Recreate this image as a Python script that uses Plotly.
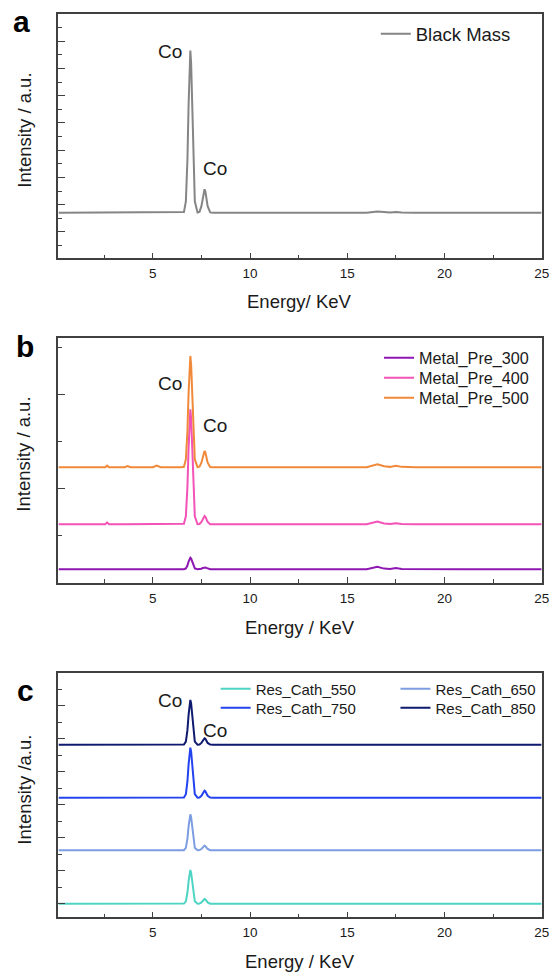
import plotly.graph_objects as go

# ---------------- data ----------------
energy = [0.15, 1.0, 2.0, 2.55, 2.65, 2.75, 3.55, 3.7, 3.85, 5.0, 5.2, 5.4,
          6.46, 6.60, 6.70, 6.78, 6.84, 6.89, 6.93, 6.97, 7.02, 7.08, 7.16, 7.30,
          7.40, 7.50, 7.57, 7.62, 7.66, 7.70, 7.75, 7.82, 7.95, 8.1, 10.0, 13.0,
          16.0, 16.55, 16.9, 17.2, 17.5, 17.8, 18.5, 21.0, 25.0]

black_mass = [706, 706, 706, 706, 712, 706, 706, 706, 706, 706, 728, 706,
              706, 730, 1123, 2642, 4679, 6203, 6662, 6203, 4679, 2642, 1123, 715,
              735, 947, 1280, 1500, 1566, 1500, 1280, 947, 719, 706, 706, 706,
              706, 750, 722, 715, 735, 712, 706, 706, 706]

metal_pre_300 = [143, 143, 143, 143, 150, 143, 143, 143, 143, 143, 146, 143,
                 143, 144, 152, 183, 225, 257, 266, 257, 225, 183, 152, 143,
                 144, 149, 157, 162, 164, 162, 157, 149, 143, 143, 143, 143,
                 143, 170, 150, 146, 155, 145, 143, 143, 143]

metal_pre_400 = [621, 621, 621, 621, 640, 621, 621, 621, 621, 621, 628, 621,
                 621, 626, 707, 1019, 1437, 1751, 1845, 1751, 1437, 1019, 707, 622,
                 624, 646, 680, 702, 709, 702, 680, 646, 622, 621, 621, 621,
                 621, 650, 630, 625, 632, 624, 621, 621, 621]

metal_pre_500 = [1228, 1228, 1228, 1228, 1245, 1228, 1228, 1240, 1228, 1228, 1245, 1228,
                 1228, 1233, 1311, 1613, 2018, 2321, 2412, 2321, 2018, 1613, 1311, 1230,
                 1234, 1276, 1343, 1388, 1401, 1388, 1343, 1276, 1231, 1228, 1228, 1228,
                 1228, 1260, 1238, 1232, 1245, 1232, 1228, 1228, 1228]

res_cath_550 = [0, 0, 0, 0, 0, 0, 0, 0, 0, 0, 0, 0,
                0, 4, 71, 332, 681, 942, 1021, 942, 681, 332, 71, 1,
                5, 40, 95, 131, 142, 131, 95, 40, 2, 0, 0, 0,
                0, 15, 5, 3, 10, 2, 0, 0, 0]

res_cath_650 = [1618, 1618, 1618, 1618, 1618, 1618, 1618, 1618, 1618, 1618, 1618, 1618,
                1618, 1622, 1694, 1973, 2346, 2625, 2709, 2625, 2346, 1973, 1694, 1619,
                1623, 1657, 1711, 1747, 1758, 1747, 1711, 1657, 1620, 1618, 1618, 1618,
                1618, 1630, 1622, 1620, 1626, 1619, 1618, 1618, 1618]

res_cath_750 = [3212, 3212, 3212, 3212, 3212, 3212, 3212, 3212, 3212, 3212, 3212, 3212,
                3212, 3218, 3318, 3704, 4223, 4610, 4727, 4610, 4223, 3704, 3318, 3214,
                3219, 3271, 3353, 3408, 3424, 3408, 3353, 3271, 3215, 3212, 3212, 3212,
                3212, 3225, 3216, 3214, 3220, 3213, 3212, 3212, 3212]

res_cath_850 = [4818, 4818, 4818, 4818, 4818, 4818, 4818, 4818, 4818, 4818, 4818, 4818,
                4818, 4823, 4913, 5258, 5722, 6069, 6173, 6069, 5722, 5258, 4913, 4820,
                4825, 4872, 4947, 4997, 5012, 4997, 4947, 4872, 4821, 4818, 4818, 4818,
                4818, 4828, 4821, 4819, 4824, 4819, 4818, 4818, 4818]

x_tick_step = 5
peak_label = "Co"

# ---------------- layout helpers ----------------
W, H = 560, 972
FONT = "Liberation Sans, Arial, sans-serif"
AX = "#404040"
TXT = "#1a1a1a"


def fx(p):
    return p / W


def fy(p):
    return 1 - p / H


x_dom = [fx(59.3), fx(549.5)]
panels = {
    "a": dict(top=14.0, bot=258.3),
    "b": dict(top=337.7, bot=582.7),
    "c": dict(top=672.7, bot=917.3),
}

fig = go.Figure()
legends = {}
LEG_OFF = 35.5


def add_legend(key, text_left, row_y, size):
    legends[key] = dict(x=fx(text_left - LEG_OFF), y=fy(row_y), xanchor="left",
                        yanchor="middle", bgcolor="rgba(0,0,0,0)", borderwidth=0,
                        font=dict(family=FONT, size=size, color=TXT))


# panel a
fig.add_trace(go.Scatter(x=energy, y=black_mass, name="Black Mass", mode="lines",
                         line=dict(color="#858585", width=2), xaxis="x", yaxis="y",
                         legend="legend"))
add_legend("legend", 416.7, 34.3, 18.5)

# panel b
b_series = [("Metal_Pre_300", metal_pre_300, "#8E17B3", 358.3),
            ("Metal_Pre_400", metal_pre_400, "#F352B7", 378.3),
            ("Metal_Pre_500", metal_pre_500, "#F08A3A", 398.3)]
for i, (name, ys, col, ry) in enumerate(b_series):
    key = "legend%d" % (i + 2)
    fig.add_trace(go.Scatter(x=energy, y=ys, name=name, mode="lines",
                             line=dict(color=col, width=2), xaxis="x2", yaxis="y2",
                             legend=key))
    add_legend(key, 420, ry, 16.2)

# panel c
c_series = [("Res_Cath_550", res_cath_550, "#4DD4C2", 254.3, 689),
            ("Res_Cath_650", res_cath_650, "#7C9DE2", 436.7, 689),
            ("Res_Cath_750", res_cath_750, "#2243EE", 254.3, 708),
            ("Res_Cath_850", res_cath_850, "#0D1A6E", 436.7, 708)]
for i, (name, ys, col, tx, ry) in enumerate(c_series):
    key = "legend%d" % (i + 5)
    fig.add_trace(go.Scatter(x=energy, y=ys, name=name, mode="lines",
                             line=dict(color=col, width=2), xaxis="x3", yaxis="y3",
                             legend=key))
    add_legend(key, tx, ry, 15.0)


def xaxis_def(anchor):
    return dict(domain=x_dom, anchor=anchor, range=[0.146, 25],
                tick0=0, dtick=x_tick_step, ticks="inside", ticklen=6, tickwidth=1.3,
                tickcolor=AX, ticklabelstandoff=2,
                minor=dict(tick0=0, dtick=x_tick_step / 2, ticks="inside", ticklen=3.5,
                           tickwidth=1.2, tickcolor=AX),
                showline=True, mirror=True, linecolor=AX, linewidth=1.5,
                showgrid=False, zeroline=False,
                tickfont=dict(family=FONT, size=13.5, color=TXT))


def yaxis_def(anchor, pnl, rng):
    p = panels[pnl]
    return dict(domain=[fy(p["bot"]), fy(p["top"])], anchor=anchor, range=rng,
                tick0=0, dtick=1000, ticks="inside", ticklen=7, tickwidth=1.3,
                tickcolor=AX,
                minor=dict(tick0=0, dtick=500, ticks="inside", ticklen=3.5,
                           tickwidth=1.2, tickcolor=AX),
                showticklabels=False,
                showline=True, mirror=True, linecolor=AX, linewidth=1.5,
                showgrid=False, zeroline=False)


annotations = []


def ann(text, x, y, size, bold=False, angle=0):
    annotations.append(dict(text=("<b>%s</b>" % text) if bold else text,
                            x=fx(x), y=fy(y), xref="paper", yref="paper",
                            xanchor="center", yanchor="middle", showarrow=False,
                            textangle=angle,
                            font=dict(family=FONT, size=size, color="#000" if bold else TXT)))


# panel letters
ann("a", 22, 22, 30, bold=True)
ann("b", 25, 346, 30, bold=True)
ann("c", 26, 690, 30, bold=True)
# y titles
ann("Intensity / a.u.", 24, 130, 18.5, angle=-90)
ann("Intensity / a.u.", 24, 454, 18.5, angle=-90)
ann("Intensity /a.u.", 24, 790, 18.5, angle=-90)
# x titles
ann("Energy/ KeV", 304, 301, 18.5)
ann("Energy / KeV", 304, 627, 18.5)
ann("Energy / KeV", 304, 961, 18.5)
# peak labels
for (cx, cy) in [(172, 51.7), (218, 168.7), (172, 383.7), (218, 425), (172, 700), (218, 730)]:
    ann(peak_label, cx, cy, 19)

fig.update_layout(
    width=W, height=H,
    margin=dict(l=0, r=0, t=0, b=0),
    paper_bgcolor="white", plot_bgcolor="white",
    font=dict(family=FONT, color=TXT),
    showlegend=True,
    xaxis=xaxis_def("y"),
    yaxis=yaxis_def("x", "a", [-967, 8000]),
    xaxis2=xaxis_def("y2"),
    yaxis2=yaxis_def("x2", "b", [0, 2606]),
    xaxis3=xaxis_def("y3"),
    yaxis3=yaxis_def("x3", "c", [-412, 7000]),
    annotations=annotations,
    **legends,
)

fig.write_html("out.html",
               config={"displayModeBar": False},
               post_script="document.body.style.margin='0px';document.body.style.overflow='hidden';")
